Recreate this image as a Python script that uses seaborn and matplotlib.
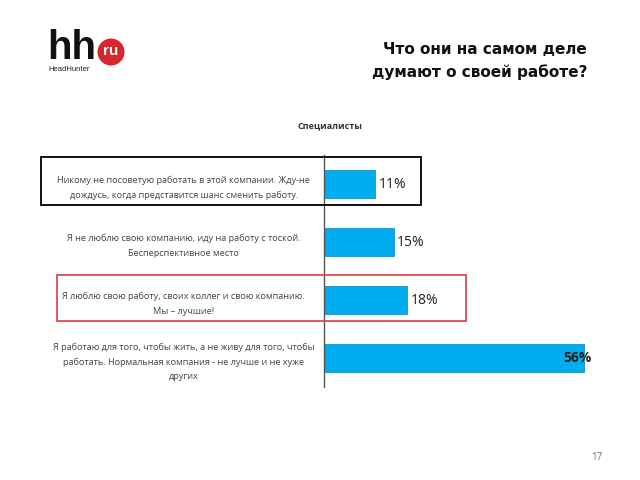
import matplotlib
matplotlib.use("Agg")
import matplotlib.pyplot as plt
import seaborn as sns
import pandas as pd
from matplotlib.patches import Rectangle, Ellipse

categories = [
    "Никому не посоветую работать в этой компании. Жду-не\nдождусь, когда представится шанс сменить работу.",
    "Я не люблю свою компанию, иду на работу с тоской.\nБесперспективное место",
    "Я люблю свою работу, своих коллег и свою компанию.\nМы – лучшие!",
    "Я работаю для того, чтобы жить, а не живу для того, чтобы\nработать. Нормальная компания - не лучше и не хуже\nдругих",
]
values = [11, 15, 18, 56]
value_labels = ["11%", "15%", "18%", "56%"]

sns.set_theme(style="white")
plt.rcParams['font.family'] = ['Open Sans', 'DejaVu Sans']

W, H = 640, 480
fig = plt.figure(figsize=(6.4, 4.8), dpi=100)

def fx(px):
    return px / W

def fy(py):
    return 1 - py / H

left, right = 324, 593
top, bottom = 155, 387
ax = fig.add_axes([fx(left), fy(bottom), fx(right - left), (bottom - top) / H])

df = pd.DataFrame({"cat": categories, "val": values})
sns.barplot(data=df, x="val", y="cat", ax=ax, color="#00AEEF", width=0.48,
            edgecolor="#1a8fc4", linewidth=0.6, saturation=1)
ax.set_xlim(0, 58)
ax.set_ylim(3.5, -0.5)
ax.set_xlabel("")
ax.set_ylabel("")
ax.set_xticks([])
for s in ["top", "right", "bottom"]:
    ax.spines[s].set_visible(False)
ax.spines["left"].set_color("#555555")
ax.spines["left"].set_linewidth(1.0)

ax.tick_params(axis="y", length=0, pad=101)
for lab in ax.get_yticklabels():
    lab.set_horizontalalignment("center")
    lab.set_multialignment("center")
    lab.set_fontsize(6.6)
    lab.set_color("#444444")
    lab.set_linespacing(1.8)

for i, (v, t) in enumerate(zip(values, value_labels)):
    if v > 40:
        ax.text(v + 1.6, i, t, ha="right", va="center", fontsize=10,
                color="#222222", fontweight="bold")
    else:
        ax.text(v + 0.8, i, t, ha="left", va="center", fontsize=10,
                color="#222222")

# Annotation boxes
fig.patches.append(Rectangle((fx(41), fy(205)), fx(421 - 41), (205 - 157) / H,
                             transform=fig.transFigure, fill=False,
                             edgecolor="#111111", linewidth=1.4))
fig.patches.append(Rectangle((fx(57), fy(321)), fx(466 - 57), (321 - 275) / H,
                             transform=fig.transFigure, fill=False,
                             edgecolor="#E0393E", linewidth=1.2))

# Titles
fig.text(fx(587), fy(50), "Что они на самом деле", ha="right", va="center",
         fontsize=11, fontweight="bold", color="#111111", family=["DejaVu Sans"])
fig.text(fx(587), fy(72), "думают о своей работе?", ha="right", va="center",
         fontsize=11, fontweight="bold", color="#111111", family=["DejaVu Sans"])
fig.text(fx(330), fy(126), "Специалисты", ha="center", va="center",
         fontsize=6.5, fontweight="bold", color="#333333")

# Logo
fig.text(fx(47), fy(59), "hh", ha="left", va="baseline", fontsize=29,
         fontweight="bold", color="#111111", family=["Liberation Sans"])
fig.patches.append(Ellipse((fx(111), fy(52)), 27 / W, 27 / H, transform=fig.transFigure,
                           facecolor="#D8262D", edgecolor="none"))
fig.text(fx(111), fy(51), "ru", ha="center", va="center", fontsize=11,
         fontweight="bold", color="white", family=["Liberation Sans"])
fig.text(fx(48), fy(71), "HeadHunter", ha="left", va="baseline", fontsize=5.5,
         color="#222222", family=["Liberation Sans"])

fig.text(fx(597), fy(457), "17", ha="center", va="center", fontsize=7,
         color="#777777")

fig.savefig("out.png", dpi=100, facecolor="white")
